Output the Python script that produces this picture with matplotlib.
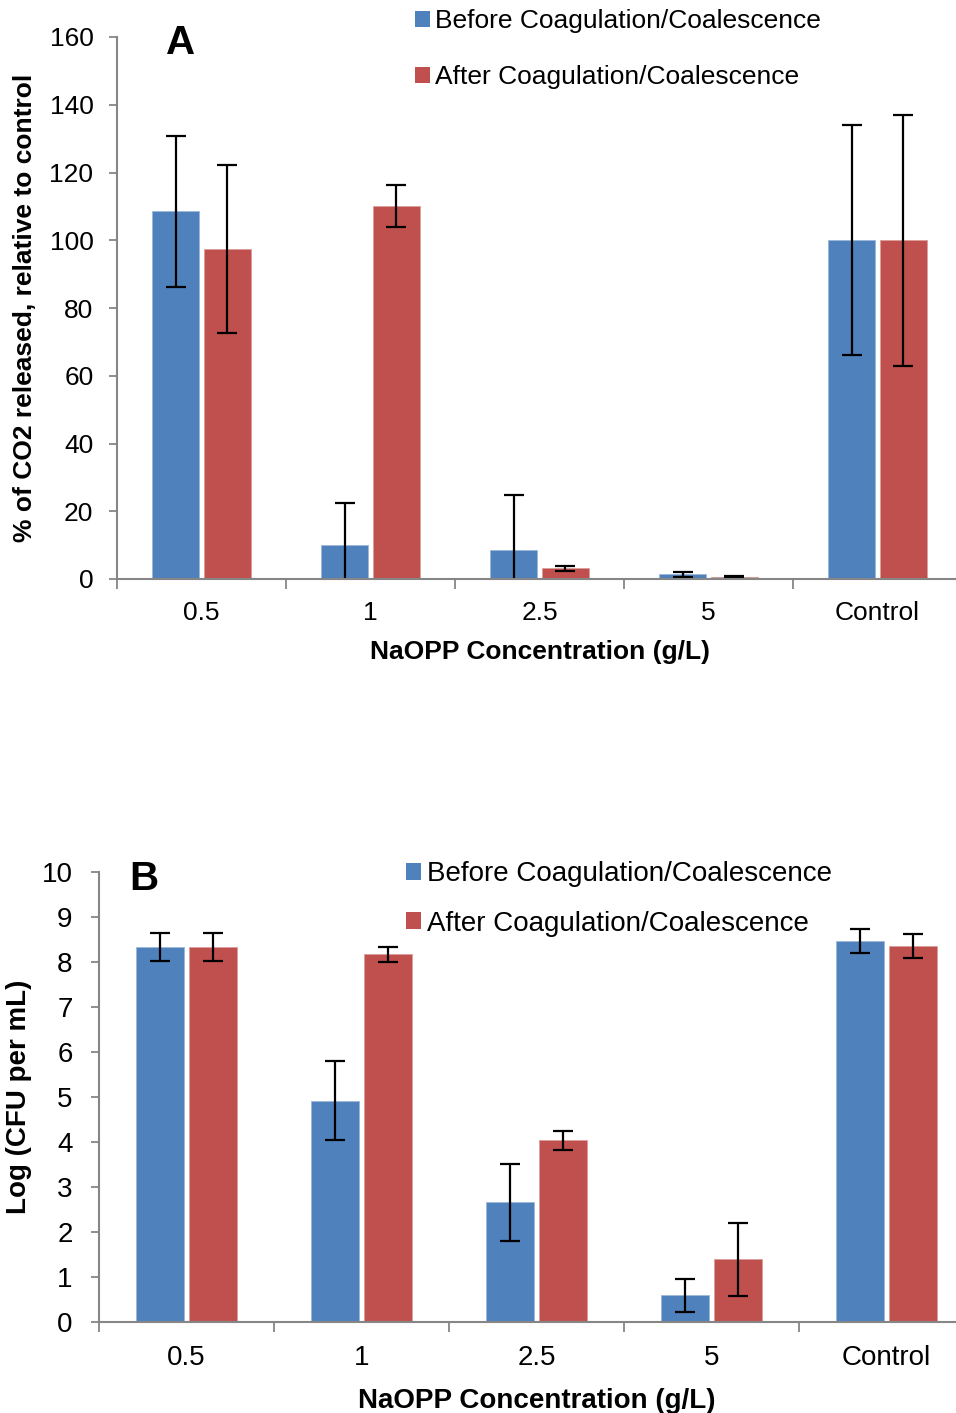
import matplotlib
matplotlib.use("Agg")
import matplotlib.pyplot as plt
import numpy as np
from matplotlib.patches import Patch

plt.rcParams['font.family'] = ['Liberation Sans', 'DejaVu Sans']

categories = ["0.5", "1", "2.5", "5", "Control"]
series_names = ["Before Coagulation/Coalescence", "After Coagulation/Coalescence"]

# Panel A: CO2 release relative to control (%)
co2_before = [108.5, 10.1, 8.7, 1.4, 100.0]
co2_before_err = [22.2, 12.3, 16.0, 0.8, 34.0]
co2_after = [97.4, 110.1, 3.2, 0.5, 100.0]
co2_after_err = [24.7, 6.1, 0.7, 0.3, 37.0]

# Panel B: viable counts, log CFU per mL
cfu_before = [8.33, 4.92, 2.66, 0.59, 8.47]
cfu_before_err = [0.31, 0.87, 0.85, 0.36, 0.26]
cfu_after = [8.33, 8.17, 4.04, 1.39, 8.36]
cfu_after_err = [0.31, 0.17, 0.21, 0.82, 0.26]

BLUE = "#4F81BD"
RED = "#C0504D"
AXIS_GRAY = "#868686"

W, H = 956, 1413
fig = plt.figure(figsize=(W / 100, H / 100), dpi=100)


def panel(rect, before, before_err, after, after_err, ymax, ystep,
          ylabel, letter, letter_xy, legend_xy, legend_spacing, fs,
          ytick_pad, xtick_pad, ylabelpad, xlabelpad):
    ax = fig.add_axes(rect)
    x = np.arange(len(categories))
    width = 0.275
    off = 0.153
    err_kw = dict(ecolor="black", elinewidth=1.6, capsize=7.5, capthick=1.6)
    ax.bar(x - off, before, width, color=BLUE, edgecolor="#9DB7DA",
           linewidth=0.6, yerr=before_err, error_kw=err_kw, zorder=2)
    ax.bar(x + off, after, width, color=RED, edgecolor="#DA9D9B",
           linewidth=0.6, yerr=after_err, error_kw=err_kw, zorder=2)

    ax.set_xlim(-0.5, len(categories) - 0.5)
    ax.set_ylim(0, ymax)
    ax.set_yticks(np.arange(0, ymax + ystep / 2, ystep))

    # category boundaries carry the tick marks, centres carry the labels
    ax.set_xticks(np.arange(-0.5, len(categories), 1.0))
    ax.set_xticklabels([])
    ax.set_xticks(x, minor=True)
    ax.set_xticklabels(categories, minor=True)
    ax.tick_params(axis="x", which="major", length=7, width=1.3,
                   color=AXIS_GRAY, direction="out")
    ax.tick_params(axis="x", which="minor", length=0, pad=xtick_pad,
                   labelsize=fs)
    ax.tick_params(axis="y", length=6, width=1.3, color=AXIS_GRAY,
                   direction="out", pad=ytick_pad, labelsize=fs)

    for s in ("top", "right"):
        ax.spines[s].set_visible(False)
    for s in ("left", "bottom"):
        ax.spines[s].set_color(AXIS_GRAY)
        ax.spines[s].set_linewidth(1.5)

    ax.set_xlabel("NaOPP Concentration (g/L)", fontsize=fs,
                  fontweight="bold", labelpad=xlabelpad)
    ax.set_ylabel(ylabel, fontsize=fs, fontweight="bold",
                  labelpad=ylabelpad)

    fig.text(letter_xy[0] / W, 1 - letter_xy[1] / H, letter, fontsize=29,
             fontweight="bold", ha="left", va="baseline")

    handles = [Patch(facecolor=BLUE, edgecolor="none"),
               Patch(facecolor=RED, edgecolor="none")]
    ax.legend(handles, series_names, loc="upper left",
              bbox_to_anchor=(legend_xy[0] / W, 1 - legend_xy[1] / H),
              bbox_transform=fig.transFigure, frameon=False, fontsize=fs,
              handlelength=0.55, handleheight=0.55, handletextpad=0.2,
              labelspacing=legend_spacing, borderpad=0, borderaxespad=0)
    return ax


panel([117 / W, 1 - 579 / H, 845 / W, 542 / H],
      co2_before, co2_before_err, co2_after, co2_after_err,
      160, 20, "% of CO2 released, relative to control", "A", (166, 54),
      (415, 9), 1.21, 19, 11, 16, 9, 11)

panel([99 / W, 1 - 1322 / H, 875 / W, 450 / H],
      cfu_before, cfu_before_err, cfu_after, cfu_after_err,
      10, 1, "Log (CFU per mL)", "B", (129, 890),
      (406, 861), 0.85, 20, 13, 16.5, 7, 12.5)

fig.savefig("out.png", dpi=100)
